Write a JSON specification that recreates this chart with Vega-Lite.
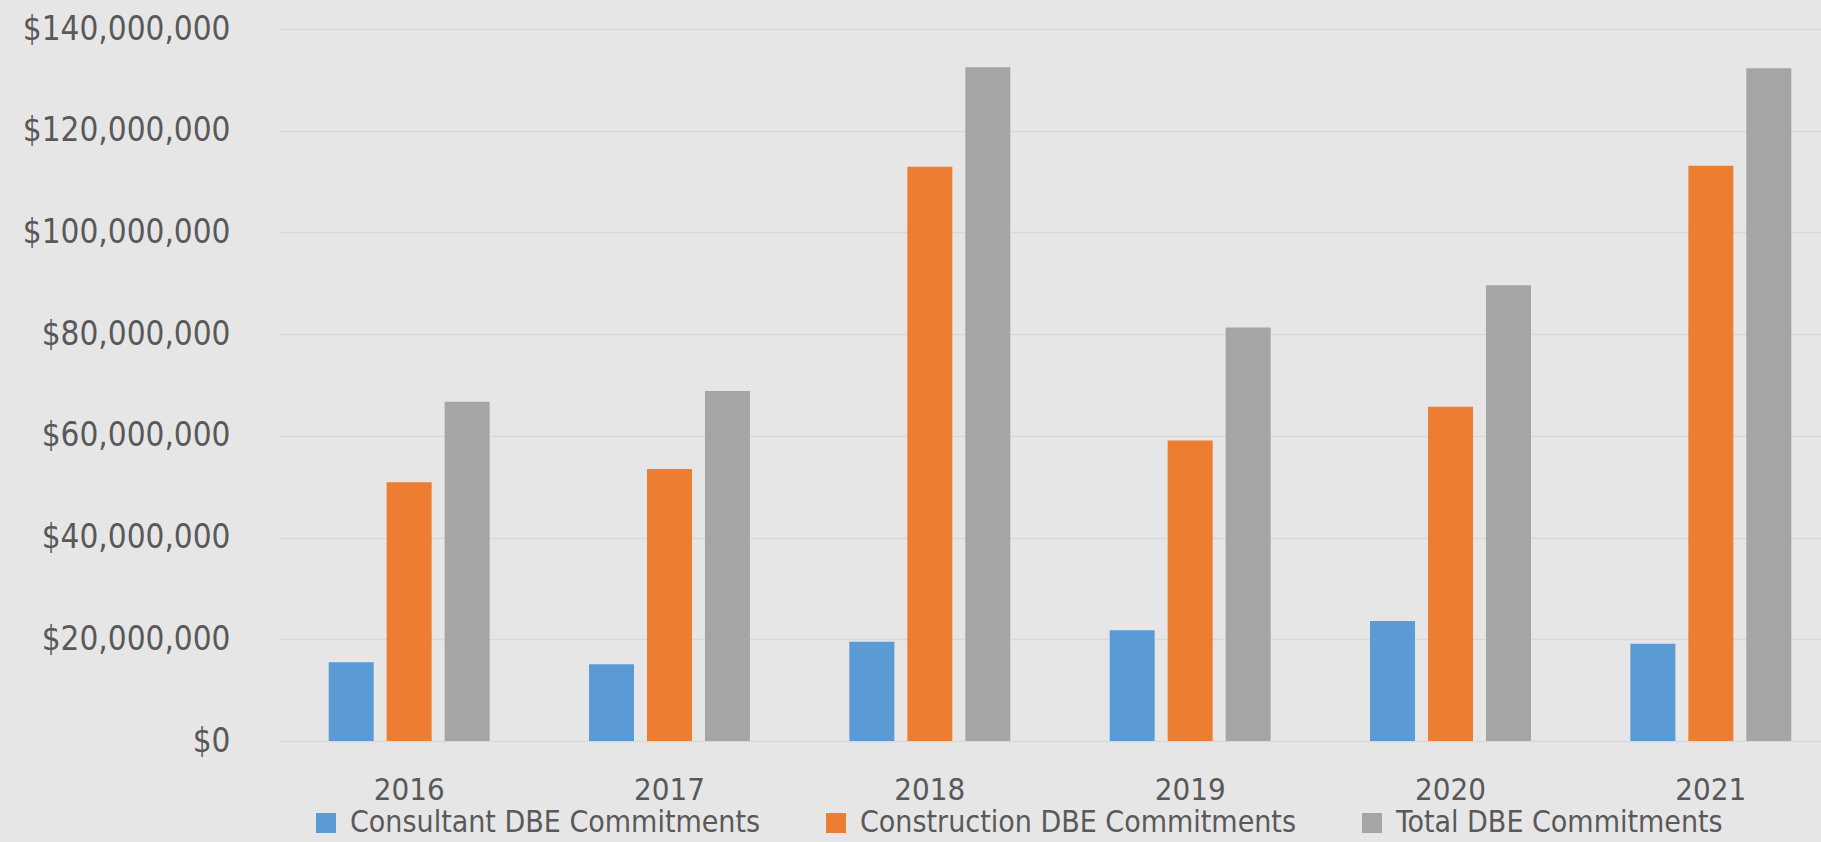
{
  "$schema": "https://vega.github.io/schema/vega-lite/v6.json",
  "autosize": {"type": "none"},
  "padding": {"left": 279, "top": 29, "right": 0, "bottom": 101},
  "width": 1542,
  "height": 712,
  "background": "#E7E6E6",
  "config": {
    "view": {"stroke": null},
    "font": "Liberation Sans Narrow, DejaVu Sans Condensed, sans-serif",
    "axis": {"labelColor": "#595959", "labelFont": "Liberation Sans Narrow, DejaVu Sans Condensed, sans-serif"},
    "legend": {"labelColor": "#595959", "labelFont": "Liberation Sans Narrow, DejaVu Sans Condensed, sans-serif"}
  },
  "data": {
    "values": [
      {"year": "2016", "series": "Consultant DBE Commitments", "value": 15500000},
      {"year": "2016", "series": "Construction DBE Commitments", "value": 50900000},
      {"year": "2016", "series": "Total DBE Commitments", "value": 66700000},
      {"year": "2017", "series": "Consultant DBE Commitments", "value": 15100000},
      {"year": "2017", "series": "Construction DBE Commitments", "value": 53500000},
      {"year": "2017", "series": "Total DBE Commitments", "value": 68800000},
      {"year": "2018", "series": "Consultant DBE Commitments", "value": 19500000},
      {"year": "2018", "series": "Construction DBE Commitments", "value": 112900000},
      {"year": "2018", "series": "Total DBE Commitments", "value": 132500000},
      {"year": "2019", "series": "Consultant DBE Commitments", "value": 21800000},
      {"year": "2019", "series": "Construction DBE Commitments", "value": 59100000},
      {"year": "2019", "series": "Total DBE Commitments", "value": 81300000},
      {"year": "2020", "series": "Consultant DBE Commitments", "value": 23600000},
      {"year": "2020", "series": "Construction DBE Commitments", "value": 65700000},
      {"year": "2020", "series": "Total DBE Commitments", "value": 89600000},
      {"year": "2021", "series": "Consultant DBE Commitments", "value": 19100000},
      {"year": "2021", "series": "Construction DBE Commitments", "value": 113100000},
      {"year": "2021", "series": "Total DBE Commitments", "value": 132300000}
    ]
  },
  "mark": {"type": "bar"},
  "encoding": {
    "x": {
      "field": "year", "type": "nominal", "title": null,
      "scale": {"range": [0, 1562], "paddingInner": 0, "paddingOuter": 0},
      "axis": {"labelAngle": 0, "labelFontSize": 31, "labelPadding": 34, "ticks": false, "domain": false, "grid": false}
    },
    "xOffset": {
      "field": "series", "type": "nominal",
      "sort": ["Consultant DBE Commitments", "Construction DBE Commitments", "Total DBE Commitments"],
      "scale": {"paddingInner": 0.224, "paddingOuter": 0.857}
    },
    "y": {
      "field": "value", "type": "quantitative", "title": null,
      "scale": {"domain": [0, 140000000], "nice": false},
      "axis": {"values": [0, 20000000, 40000000, 60000000, 80000000, 100000000, 120000000, 140000000],
        "format": "$,.0f", "labelFontSize": 33, "labelPadding": 49, "labelLimit": 300, "ticks": false, "domain": false,
        "gridColor": "#D9D9D9", "gridWidth": 1.5}
    },
    "color": {
      "field": "series", "type": "nominal",
      "scale": {"domain": ["Consultant DBE Commitments", "Construction DBE Commitments", "Total DBE Commitments"],
        "range": ["#5B9BD5", "#ED7D31", "#A5A5A5"]},
      "legend": {"orient": "none", "direction": "horizontal", "title": null, "legendX": 32, "legendY": 779,
        "symbolType": "square", "symbolSize": 400, "symbolStrokeWidth": 0, "labelFontSize": 30, "labelOffset": 9,
        "columnPadding": 60, "labelLimit": 600}
    }
  }
}
